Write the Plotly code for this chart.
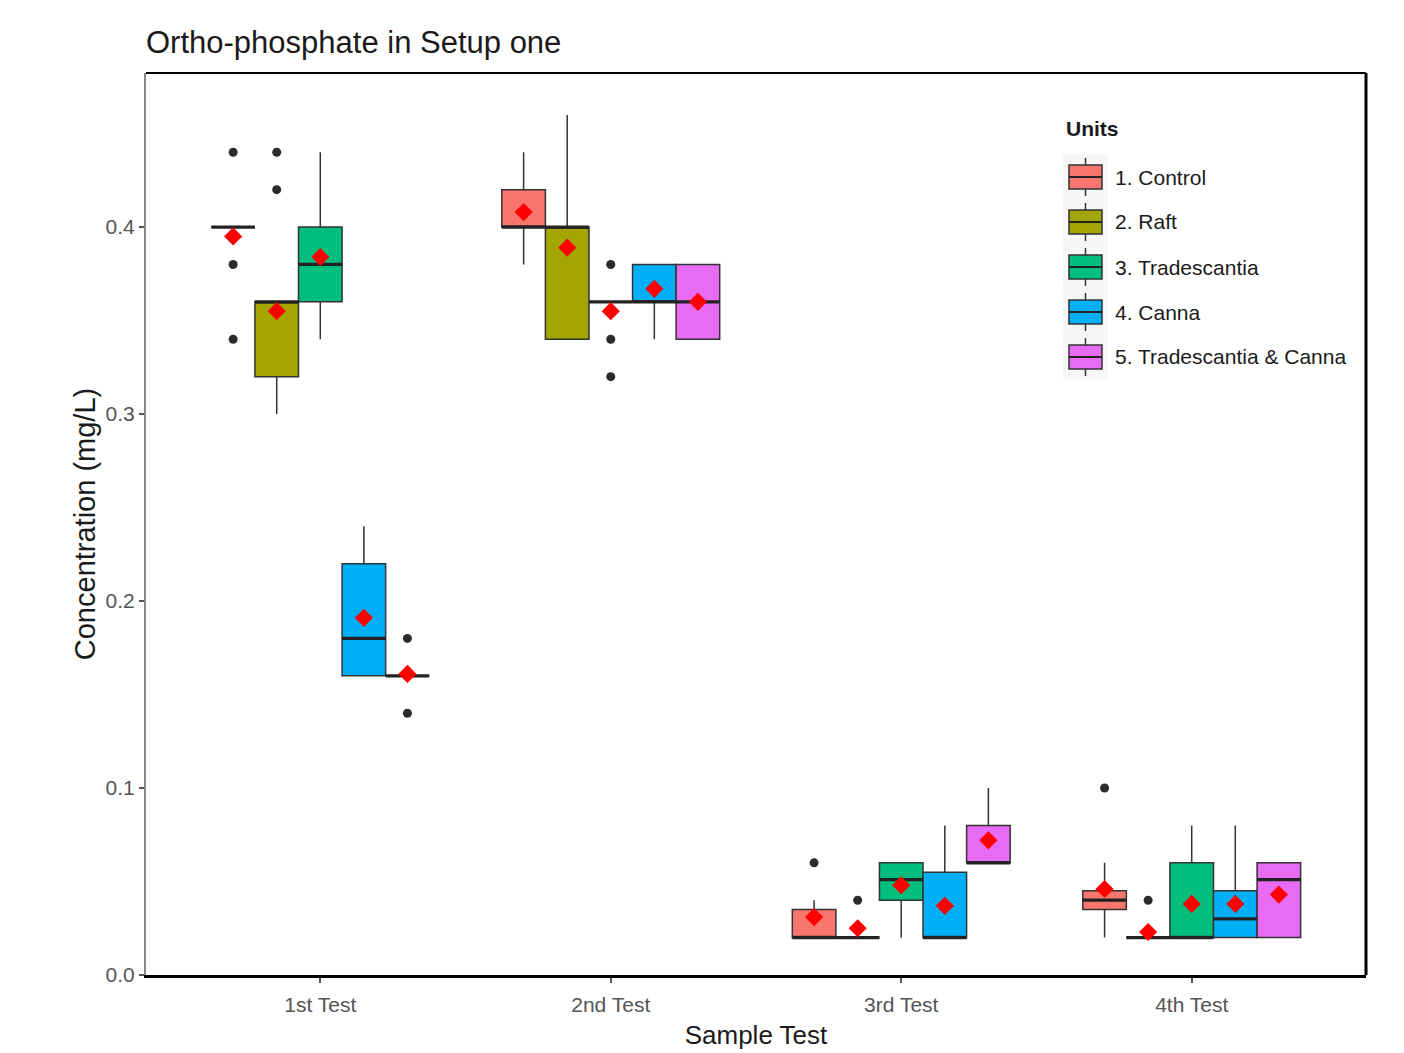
import plotly.graph_objects as go

# Ortho-phosphate concentration (mg/L) per sampling test and treatment unit
tests = ["1st Test", "2nd Test", "3rd Test", "4th Test"]
units = ["1. Control", "2. Raft", "3. Tradescantia", "4. Canna", "5. Tradescantia & Canna"]
colors = ["#F8766D", "#A3A500", "#00BF7D", "#00B0F6", "#E76BF3"]

# Box statistics, one list per unit, one value per test
control_q1 = [0.40, 0.40, 0.020, 0.035]
control_med = [0.40, 0.40, 0.020, 0.040]
control_q3 = [0.40, 0.42, 0.035, 0.045]
control_lo = [0.40, 0.38, 0.020, 0.020]
control_hi = [0.40, 0.44, 0.040, 0.060]
control_mean = [0.395, 0.408, 0.031, 0.046]
control_out = [[0.44, 0.38, 0.34], [], [0.06], [0.10]]

raft_q1 = [0.32, 0.34, 0.02, 0.02]
raft_med = [0.36, 0.40, 0.02, 0.02]
raft_q3 = [0.36, 0.40, 0.02, 0.02]
raft_lo = [0.30, 0.34, 0.02, 0.02]
raft_hi = [0.36, 0.46, 0.02, 0.02]
raft_mean = [0.355, 0.389, 0.025, 0.023]
raft_out = [[0.44, 0.42], [], [0.04], [0.04]]

trad_q1 = [0.36, 0.36, 0.040, 0.02]
trad_med = [0.38, 0.36, 0.051, 0.02]
trad_q3 = [0.40, 0.36, 0.060, 0.06]
trad_lo = [0.34, 0.36, 0.020, 0.02]
trad_hi = [0.44, 0.36, 0.060, 0.08]
trad_mean = [0.384, 0.355, 0.048, 0.038]
trad_out = [[], [0.38, 0.34, 0.32], [], []]

canna_q1 = [0.16, 0.36, 0.020, 0.020]
canna_med = [0.18, 0.36, 0.020, 0.030]
canna_q3 = [0.22, 0.38, 0.055, 0.045]
canna_lo = [0.16, 0.34, 0.020, 0.020]
canna_hi = [0.24, 0.38, 0.080, 0.080]
canna_mean = [0.191, 0.367, 0.037, 0.038]
canna_out = [[], [], [], []]

tc_q1 = [0.16, 0.34, 0.06, 0.020]
tc_med = [0.16, 0.36, 0.06, 0.051]
tc_q3 = [0.16, 0.38, 0.08, 0.060]
tc_lo = [0.16, 0.34, 0.06, 0.020]
tc_hi = [0.16, 0.38, 0.10, 0.060]
tc_mean = [0.161, 0.36, 0.072, 0.043]
tc_out = [[0.18, 0.14], [], [], []]

stats = [
    (control_q1, control_med, control_q3, control_lo, control_hi, control_mean, control_out),
    (raft_q1, raft_med, raft_q3, raft_lo, raft_hi, raft_mean, raft_out),
    (trad_q1, trad_med, trad_q3, trad_lo, trad_hi, trad_mean, trad_out),
    (canna_q1, canna_med, canna_q3, canna_lo, canna_hi, canna_mean, canna_out),
    (tc_q1, tc_med, tc_q3, tc_lo, tc_hi, tc_mean, tc_out),
]

W, H = 1404, 1053
ML, MR, MT, MB = 146, 38, 73, 78
PW, PH = W - ML - MR, H - MT - MB

DODGE = 0.75
n_units = len(units)
slot = DODGE / n_units
box_w = slot
outline = "#333333"
FONT = "Liberation Sans, Arial, sans-serif"


def px_x(px):
    """Pixel column -> paper x."""
    return (px - ML) / PW


def px_y(py):
    """Pixel row -> paper y."""
    return (H - MB - py) / PH


fig = go.Figure()
median_traces, outlier_traces, mean_traces = [], [], []

for i, (name, col, st) in enumerate(zip(units, colors, stats)):
    q1, med, q3, lo, hi, mean, outs = st
    offset = (i - (n_units - 1) / 2) * slot
    xs = [k + 1 + offset for k in range(len(tests))]
    fig.add_trace(go.Box(
        name=name, x=xs, q1=q1, median=med, q3=q3,
        lowerfence=lo, upperfence=hi,
        width=box_w, whiskerwidth=0,
        fillcolor=col, line=dict(color=outline, width=1.5),
        showlegend=False, hoverinfo="skip",
    ))
    # thicker median bars
    mx, my = [], []
    for x, m in zip(xs, med):
        mx += [x - box_w / 2, x + box_w / 2, None]
        my += [m, m, None]
    median_traces.append(go.Scatter(
        x=mx, y=my, mode="lines", line=dict(color="#222222", width=3.2),
        showlegend=False, hoverinfo="skip"))
    # outliers
    ox, oy = [], []
    for x, pts in zip(xs, outs):
        for p in pts:
            ox.append(x)
            oy.append(p)
    if ox:
        outlier_traces.append(go.Scatter(
            x=ox, y=oy, mode="markers",
            marker=dict(color="#2b2b2b", size=9),
            showlegend=False, hoverinfo="skip"))
    # group means
    mean_traces.append(go.Scatter(
        x=xs, y=mean, mode="markers",
        marker=dict(color="#FF0000", symbol="diamond", size=14),
        showlegend=False, hoverinfo="skip"))

for t in median_traces + outlier_traces + mean_traces:
    fig.add_trace(t)

# Legend drawn as boxplot keys, ggplot style
shapes = [
    dict(type="line", xref="paper", yref="paper", x0=0, x1=1, y0=1, y1=1,
         line=dict(color="black", width=2)),
    dict(type="line", xref="paper", yref="paper", x0=1, x1=1, y0=0, y1=1,
         line=dict(color="black", width=3)),
]
annotations = [
    dict(text="<b>Units</b>", xref="paper", yref="paper", x=px_x(1064), y=px_y(128),
         xanchor="left", yanchor="middle", showarrow=False,
         font=dict(size=21, color="#1a1a1a")),
]
KEY_L, KEY_R = 1069, 1102
KEY_C = (KEY_L + KEY_R) / 2
ROW0, ROW_STEP = 177, 45
for i, (name, col) in enumerate(zip(units, colors)):
    cy = ROW0 + i * ROW_STEP
    shapes.append(dict(type="rect", xref="paper", yref="paper", layer="above",
                       x0=px_x(1063), x1=px_x(1108),
                       y0=px_y(cy - ROW_STEP / 2), y1=px_y(cy + ROW_STEP / 2),
                       fillcolor="#f7f7f7", line=dict(width=0)))
    shapes.append(dict(type="line", xref="paper", yref="paper", layer="above",
                       x0=px_x(KEY_C), x1=px_x(KEY_C),
                       y0=px_y(cy - 19), y1=px_y(cy + 19),
                       line=dict(color=outline, width=1.5)))
    shapes.append(dict(type="rect", xref="paper", yref="paper", layer="above",
                       x0=px_x(KEY_L), x1=px_x(KEY_R),
                       y0=px_y(cy - 12), y1=px_y(cy + 12),
                       fillcolor=col, line=dict(color=outline, width=1.5)))
    shapes.append(dict(type="line", xref="paper", yref="paper", layer="above",
                       x0=px_x(KEY_L), x1=px_x(KEY_R),
                       y0=px_y(cy), y1=px_y(cy),
                       line=dict(color="#222222", width=2)))
    annotations.append(dict(text=name, xref="paper", yref="paper",
                            x=px_x(1113), y=px_y(cy),
                            xanchor="left", yanchor="middle", showarrow=False,
                            font=dict(size=21, color="#1a1a1a")))

fig.update_layout(
    width=W, height=H,
    margin=dict(l=ML, r=MR, t=MT, b=MB),
    paper_bgcolor="white", plot_bgcolor="white",
    font=dict(family=FONT, color="#1a1a1a"),
    showlegend=False,
    title=dict(text="Ortho-phosphate in Setup one", x=0, xref="paper", xanchor="left",
               y=1 - 42 / H, yref="container", yanchor="middle",
               font=dict(size=31, color="#1a1a1a")),
    xaxis=dict(
        range=[0.4, 4.6], tickvals=[1, 2, 3, 4], ticktext=tests,
        showgrid=False, zeroline=False, automargin=False,
        showline=True, linecolor="black", linewidth=3,
        ticks="outside", ticklen=5, tickcolor="#555555", tickwidth=1.5,
        ticklabelstandoff=4,
        tickfont=dict(size=21, color="#555555"),
        title=dict(text="Sample Test", font=dict(size=26, color="#1a1a1a"), standoff=11),
    ),
    yaxis=dict(
        range=[0, 0.4824], tickvals=[0, 0.1, 0.2, 0.3, 0.4],
        ticktext=["0.0", "0.1", "0.2", "0.3", "0.4"],
        showgrid=False, zeroline=False, automargin=False,
        showline=True, linecolor="#888888", linewidth=2,
        ticks="outside", ticklen=5, tickcolor="#555555", tickwidth=1.5,
        tickfont=dict(size=21, color="#555555"),
        title=dict(text="Concentration (mg/L)", font=dict(size=29, color="#1a1a1a"), standoff=1),
    ),
    shapes=shapes,
    annotations=annotations,
)

fig.write_html("out.html")
